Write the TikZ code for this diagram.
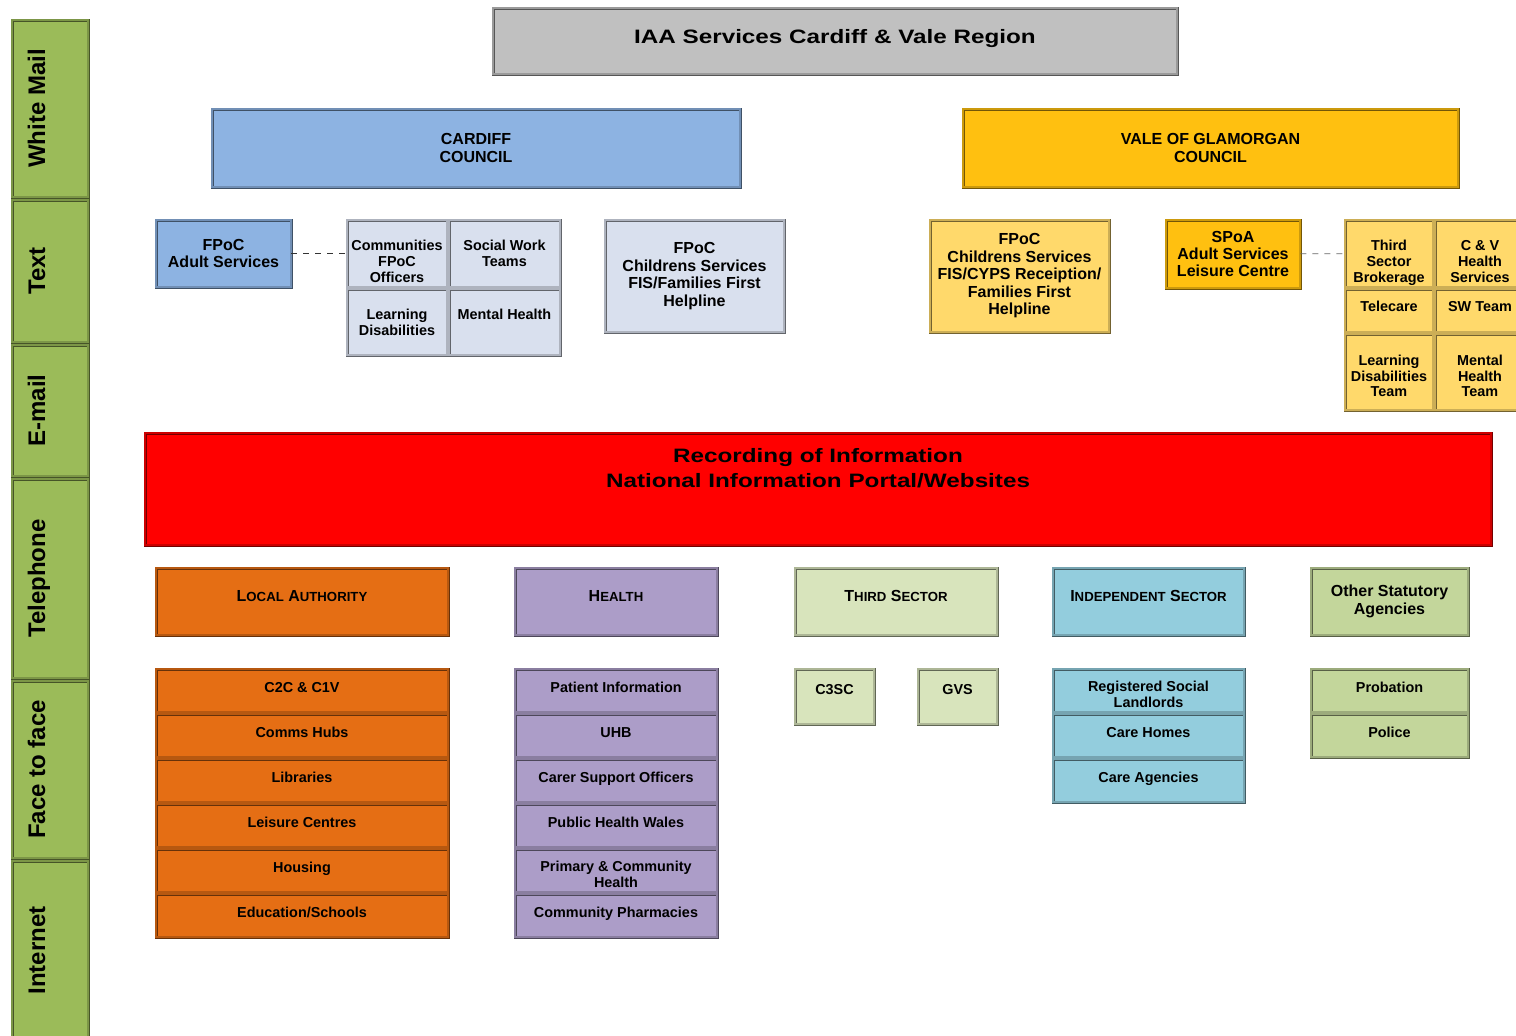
\documentclass[tikz,border=0pt]{standalone}
\usepackage{fontspec}
\setmainfont{Liberation Sans}
\newfontfamily\widefont{Liberation Sans}[FakeStretch=1.25]
\definecolor{chgreen}{HTML}{9BBB59}
\definecolor{titlegray}{HTML}{C0C0C0}
\definecolor{cdfblue}{HTML}{8DB3E2}
\definecolor{cdflight}{HTML}{D9E0EE}
\definecolor{valegold}{HTML}{FFC010}
\definecolor{valelight}{HTML}{FFD96B}
\definecolor{portalred}{HTML}{FF0000}
\definecolor{laorange}{HTML}{E56E14}
\definecolor{hlpurple}{HTML}{AC9DC8}
\definecolor{tspale}{HTML}{D8E4BC}
\definecolor{isblue}{HTML}{93CDDD}
\definecolor{osaolive}{HTML}{C3D69B}
\newcommand\capsc[2]{#1{\fontsize{6.6}{7}\selectfont #2}}
% move text inside its box, box size kept
\newcommand\nudge[2]{\raisebox{#1}[\height][\depth]{\begin{tabular}{@{}c@{}}#2\end{tabular}}}
\tikzset{
  box/.style={draw=#1!45!black, double=#1!80!black, double distance=0.7pt, line width=0.4pt,
    fill=#1, align=center, inner sep=1pt, font=\bfseries\fontsize{8}{8.7}\selectfont},
  item/.style={box=#1, font=\bfseries\fontsize{7.2}{7.9}\selectfont},
  hdr/.style={box=#1, text depth=6pt},
  chan/.style={box=chgreen, rotate=90, minimum height=38pt, text height=9pt, text depth=14pt,
    font=\bfseries\fontsize{12}{14}\selectfont},
}
\begin{document}
\begin{tikzpicture}[x=0.5pt,y=-0.5pt]
\useasboundingbox (0,0) rectangle (1516,1035);

% contact channels
\node[chan, minimum width=88.5pt] (wm) at (50,108.5) {White Mail};
\node[chan, minimum width=71pt] (txt) at (50,271) {Text};
\node[chan, minimum width=65.5pt] (em) at (50,410.5) {E-mail};
\node[chan, minimum width=99.5pt] (tel) at (50,578.5) {Telephone};
\node[chan, minimum width=88.5pt] (f2f) at (50,769.5) {Face to face};
\node[chan, minimum width=89.5pt] (web) at (50,950.5) {Internet};

% region and councils
\node[box=titlegray, minimum width=342pt, minimum height=33pt, text depth=5pt,
  font=\widefont\bfseries\fontsize{9.7}{12}\selectfont] (iaa) at (835,41) {IAA Services Cardiff \& Vale Region};
\node[box=cdfblue, minimum width=264pt, minimum height=39pt, font=\bfseries\fontsize{8}{9}\selectfont] (cdf) at (476,148) {CARDIFF\\COUNCIL};
\node[box=valegold, minimum width=247.5pt, minimum height=39pt, font=\bfseries\fontsize{8}{9}\selectfont] (vog) at (1210.5,148) {VALE OF GLAMORGAN\\COUNCIL};

% cardiff front doors
\node[box=cdfblue, minimum width=67.5pt, minimum height=33.5pt] (fpoca) at (223.5,253.5) {FPoC\\Adult Services};
\node[item=cdflight, minimum width=50pt, minimum height=33.5pt] (comm) at (397,253.5) {\nudge{-5pt}{Communities\\FPoC\\Officers}};
\node[item=cdflight, minimum width=55.5pt, minimum height=33.5pt] (swt) at (504.5,253.5) {Social Work\\Teams};
\node[item=cdflight, minimum width=50pt, minimum height=33pt] (cld) at (397,322) {Learning\\Disabilities};
\node[item=cdflight, minimum width=55.5pt, minimum height=33pt] (cmh) at (504.5,322) {\nudge{3pt}{Mental Health}};
\node[box=cdflight, minimum width=89.5pt, minimum height=56pt] (fpocc) at (694.5,276) {FPoC\\Childrens Services\\FIS/Families First\\Helpline};

% vale front doors
\node[box=valelight, minimum width=89.5pt, minimum height=56pt, font=\bfseries\fontsize{8}{8.75}\selectfont] (fpocv) at (1019.5,276) {FPoC\\Childrens Services\\FIS/CYPS Receiption/\\Families First\\Helpline};
\node[box=valegold, minimum width=67pt, minimum height=34pt] (spoa) at (1233,254) {SPoA\\Adult Services\\Leisure Centre};
\node[item=valelight, minimum width=44pt, minimum height=33.5pt] (tsb) at (1389,253.5) {\nudge{-5pt}{Third\\Sector\\Brokerage}};
\node[item=valelight, minimum width=45pt, minimum height=33.5pt] (cvh) at (1480,253.5) {\nudge{-5pt}{C \& V\\Health\\Services}};
\node[item=valelight, minimum width=44pt, minimum height=21.5pt] (tele) at (1389,310.5) {\nudge{1pt}{Telecare}};
\node[item=valelight, minimum width=45pt, minimum height=21.5pt] (swv) at (1480,310.5) {\nudge{1pt}{SW Team}};
\node[item=valelight, minimum width=44pt, minimum height=38pt] (vld) at (1389,372) {\nudge{-3pt}{Learning\\Disabilities\\Team}};
\node[item=valelight, minimum width=45pt, minimum height=38pt] (vmh) at (1480,372) {\nudge{-3pt}{Mental\\Health\\Team}};

\path[draw=black!80,thick,dashed] (fpoca) -- (comm);
\path[draw=black!60,thin,dashed] (spoa) -- (tsb);

% portal
\node[box=portalred, minimum width=673pt, minimum height=56pt] (portal) at (818,489) {};
\node[font=\widefont\bfseries\fontsize{9.7}{12.5}\selectfont, align=center] (portaltxt) at (818,468.5) {Recording of Information\\National Information Portal/Websites};

% sectors
\node[hdr=laorange, minimum width=146pt, minimum height=33.5pt] (la) at (302,601.5) {\capsc{L}{OCAL} \capsc{A}{UTHORITY}};
\node[hdr=hlpurple, minimum width=101pt, minimum height=33.5pt] (hl) at (616,601.5) {\capsc{H}{EALTH}};
\node[hdr=tspale, minimum width=101pt, minimum height=33.5pt] (ts) at (896,601.5) {\capsc{T}{HIRD} \capsc{S}{ECTOR}};
\node[hdr=isblue, minimum width=95.5pt, minimum height=33.5pt] (is) at (1148.5,601.5) {\capsc{I}{NDEPENDENT} \capsc{S}{ECTOR}};
\node[box=osaolive, minimum width=78.5pt, minimum height=33.5pt] (osa) at (1389.5,601.5) {Other Statutory\\Agencies};

% local authority
\node[item=laorange, minimum width=146pt, minimum height=21.5pt] (la1) at (302,690.5) {\nudge{0.5pt}{C2C \& C1V}};
\node[item=laorange, minimum width=146pt, minimum height=21.5pt] (la2) at (302,735.5) {\nudge{0.5pt}{Comms Hubs}};
\node[item=laorange, minimum width=146pt, minimum height=21.5pt] (la3) at (302,780.5) {\nudge{0.5pt}{Libraries}};
\node[item=laorange, minimum width=146pt, minimum height=21.5pt] (la4) at (302,825.5) {\nudge{0.5pt}{Leisure Centres}};
\node[item=laorange, minimum width=146pt, minimum height=21.5pt] (la5) at (302,870.5) {\nudge{0.5pt}{Housing}};
\node[item=laorange, minimum width=146pt, minimum height=21.5pt] (la6) at (302,915.5) {\nudge{0.5pt}{Education/Schools}};

% health
\node[item=hlpurple, minimum width=101pt, minimum height=21.5pt] (hl1) at (616,690.5) {\nudge{0.5pt}{Patient Information}};
\node[item=hlpurple, minimum width=101pt, minimum height=21.5pt] (hl2) at (616,735.5) {\nudge{0.5pt}{UHB}};
\node[item=hlpurple, minimum width=101pt, minimum height=21.5pt] (hl3) at (616,780.5) {\nudge{0.5pt}{Carer Support Officers}};
\node[item=hlpurple, minimum width=101pt, minimum height=21.5pt] (hl4) at (616,825.5) {\nudge{0.5pt}{Public Health Wales}};
\node[item=hlpurple, minimum width=101pt, minimum height=21.5pt] (hl5) at (616,870.5) {\nudge{-3pt}{Primary \& Community\\Health}};
\node[item=hlpurple, minimum width=101pt, minimum height=21.5pt] (hl6) at (616,915.5) {\nudge{0.5pt}{Community Pharmacies}};

% third sector
\node[item=tspale, minimum width=39.5pt, minimum height=27.5pt] (c3sc) at (834.5,696.5) {\nudge{2.5pt}{C3SC}};
\node[item=tspale, minimum width=39.5pt, minimum height=27.5pt] (gvs) at (957.5,696.5) {\nudge{2.5pt}{GVS}};

% independent sector
\node[item=isblue, minimum width=95.5pt, minimum height=21.5pt] (is1) at (1148.5,690.5) {\nudge{-3pt}{Registered Social\\Landlords}};
\node[item=isblue, minimum width=95.5pt, minimum height=21.5pt] (is2) at (1148.5,735.5) {\nudge{0.5pt}{Care Homes}};
\node[item=isblue, minimum width=95.5pt, minimum height=21.5pt] (is3) at (1148.5,780.5) {\nudge{0.5pt}{Care Agencies}};

% other statutory
\node[item=osaolive, minimum width=78.5pt, minimum height=21.5pt] (osa1) at (1389.5,690.5) {\nudge{0.5pt}{Probation}};
\node[item=osaolive, minimum width=78.5pt, minimum height=21.5pt] (osa2) at (1389.5,735.5) {\nudge{0.5pt}{Police}};
\end{tikzpicture}
\end{document}
